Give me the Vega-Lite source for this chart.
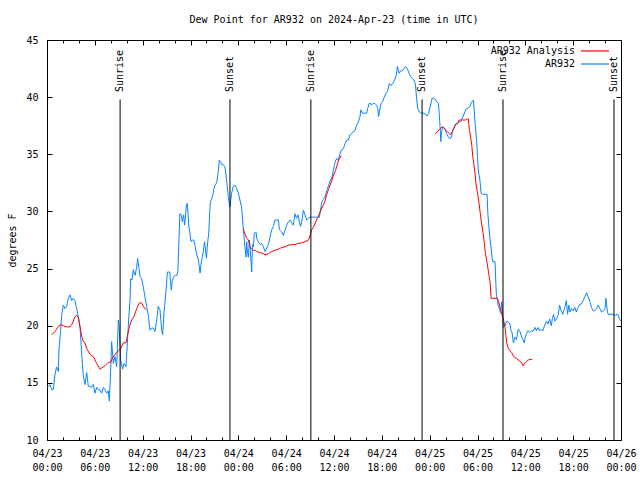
{
  "$schema": "https://vega.github.io/schema/vega-lite/v6.json",
  "autosize": "none",
  "width": 574,
  "height": 400,
  "padding": {"left": 47, "top": 40, "right": 19, "bottom": 40},
  "background": "white",
  "title": {"text": "Dew Point for AR932 on 2024-Apr-23 (time in UTC)", "font": "DejaVu Sans Mono", "fontSize": 10, "fontWeight": "normal", "color": "black", "offset": 10, "anchor": "middle"},
  "config": {
    "view": {"stroke": "black", "strokeWidth": 1},
    "axis": {"grid": false, "domain": false, "labelFont": "DejaVu Sans Mono", "labelFontSize": 10, "labelColor": "black", "titleFont": "DejaVu Sans Mono", "titleFontSize": 10, "titleFontWeight": "normal", "titleColor": "black", "tickColor": "black"},
    "legend": {"labelFont": "DejaVu Sans Mono", "labelFontSize": 10, "labelColor": "black"}
  },
  "datasets": {
    "obs": [
      {"h":0,"v":14.6},{"h":0.38,"v":14.85},{"h":0.59,"v":14.4},{"h":0.79,"v":14.4},{"h":1.0,"v":15.7},{"h":1.2,"v":16.4},{"h":1.42,"v":16.0},{"h":1.5,"v":17.9},{"h":1.71,"v":19.6},{"h":1.84,"v":20.9},{"h":2.05,"v":21.8},{"h":2.26,"v":21.5},{"h":2.47,"v":21.7},{"h":2.68,"v":22.4},{"h":2.89,"v":22.7},{"h":3.1,"v":22.2},{"h":3.3,"v":22.4},{"h":3.5,"v":22.2},{"h":3.72,"v":21.5},{"h":3.93,"v":20.8},{"h":4.14,"v":19.9},{"h":4.35,"v":17.5},{"h":4.56,"v":15.6},{"h":4.77,"v":14.85},{"h":4.98,"v":15.9},{"h":5.18,"v":14.7},{"h":5.39,"v":14.7},{"h":5.6,"v":14.6},{"h":5.81,"v":14.85},{"h":6.02,"v":14.1},{"h":6.23,"v":14.6},{"h":6.44,"v":14.4},{"h":6.65,"v":14.4},{"h":6.86,"v":14.1},{"h":7.06,"v":14.6},{"h":7.28,"v":14.4},{"h":7.49,"v":14.1},{"h":7.69,"v":14.3},{"h":7.82,"v":13.4},{"h":7.99,"v":16.2},{"h":8.11,"v":18.6},{"h":8.32,"v":16.7},{"h":8.53,"v":17.3},{"h":8.74,"v":16.4},{"h":8.95,"v":20.5},{"h":9.07,"v":19.6},{"h":9.24,"v":17.0},{"h":9.49,"v":16.2},{"h":9.66,"v":16.7},{"h":9.91,"v":16.4},{"h":10.08,"v":18.5},{"h":10.24,"v":20.5},{"h":10.41,"v":22.2},{"h":10.49,"v":24.1},{"h":10.66,"v":24.0},{"h":10.83,"v":24.9},{"h":11.04,"v":24.4},{"h":11.25,"v":25.1},{"h":11.37,"v":25.9},{"h":11.54,"v":25.0},{"h":11.67,"v":24.3},{"h":11.87,"v":24.1},{"h":12.08,"v":23.4},{"h":12.29,"v":22.5},{"h":12.5,"v":21.7},{"h":12.71,"v":20.9},{"h":12.92,"v":19.6},{"h":13.13,"v":19.8},{"h":13.33,"v":19.8},{"h":13.55,"v":19.5},{"h":13.76,"v":20.5},{"h":13.96,"v":21.7},{"h":14.17,"v":21.4},{"h":14.39,"v":19.6},{"h":14.51,"v":19.2},{"h":14.68,"v":21.2},{"h":14.8,"v":22.1},{"h":14.93,"v":23.1},{"h":15.1,"v":24.7},{"h":15.4,"v":24.7},{"h":15.5,"v":23.7},{"h":15.6,"v":23.1},{"h":15.7,"v":23.9},{"h":15.9,"v":24.3},{"h":16.1,"v":24.4},{"h":16.3,"v":24.4},{"h":16.42,"v":24.8},{"h":16.55,"v":27.5},{"h":16.67,"v":29.8},{"h":16.85,"v":29.7},{"h":16.97,"v":29.1},{"h":17.14,"v":29.7},{"h":17.27,"v":28.8},{"h":17.4,"v":29.8},{"h":17.5,"v":30.6},{"h":17.6,"v":30.7},{"h":17.8,"v":28.7},{"h":17.9,"v":28.25},{"h":18.06,"v":27.35},{"h":18.23,"v":27.5},{"h":18.4,"v":27.5},{"h":18.55,"v":27.06},{"h":18.7,"v":26.5},{"h":18.8,"v":26.2},{"h":18.98,"v":25.75},{"h":19.1,"v":25.2},{"h":19.2,"v":24.6},{"h":19.3,"v":25.3},{"h":19.45,"v":25.9},{"h":19.6,"v":26.5},{"h":19.76,"v":27.35},{"h":19.9,"v":26.5},{"h":20.0,"v":25.9},{"h":20.1,"v":26.9},{"h":20.3,"v":28.2},{"h":20.4,"v":29.8},{"h":20.5,"v":30.85},{"h":20.65,"v":31.1},{"h":20.8,"v":31.4},{"h":20.9,"v":31.9},{"h":21.07,"v":32.3},{"h":21.28,"v":32.5},{"h":21.49,"v":33.5},{"h":21.61,"v":34.5},{"h":21.78,"v":34.35},{"h":21.9,"v":34.1},{"h":22.1,"v":34.1},{"h":22.32,"v":33.9},{"h":22.53,"v":32.7},{"h":22.74,"v":31.3},{"h":22.86,"v":30.7},{"h":22.95,"v":30.4},{"h":23.16,"v":31.6},{"h":23.37,"v":32.2},{"h":23.58,"v":32.3},{"h":23.79,"v":32.0},{"h":24.0,"v":31.6},{"h":24.2,"v":31.0},{"h":24.4,"v":30.4},{"h":24.6,"v":28.7},{"h":24.75,"v":27.5},{"h":24.84,"v":26.8},{"h":24.97,"v":26.0},{"h":25.05,"v":27.35},{"h":25.13,"v":26.6},{"h":25.26,"v":26.0},{"h":25.39,"v":27.5},{"h":25.47,"v":26.9},{"h":25.55,"v":26.0},{"h":25.68,"v":24.7},{"h":25.77,"v":27.1},{"h":25.89,"v":26.9},{"h":26.01,"v":28.1},{"h":26.22,"v":28.2},{"h":26.3,"v":27.65},{"h":26.5,"v":27.35},{"h":26.72,"v":27.1},{"h":26.93,"v":27.2},{"h":27.14,"v":26.9},{"h":27.35,"v":26.5},{"h":27.56,"v":26.8},{"h":27.77,"v":27.1},{"h":27.98,"v":27.8},{"h":28.19,"v":28.4},{"h":28.4,"v":28.7},{"h":28.6,"v":29.25},{"h":28.82,"v":29.25},{"h":29.03,"v":29.25},{"h":29.15,"v":28.4},{"h":29.45,"v":28.2},{"h":29.65,"v":27.9},{"h":29.86,"v":28.4},{"h":30.07,"v":28.8},{"h":30.28,"v":29.1},{"h":30.49,"v":29.25},{"h":30.7,"v":29.0},{"h":30.9,"v":28.8},{"h":31.1,"v":29.8},{"h":31.3,"v":29.4},{"h":31.5,"v":29.7},{"h":31.65,"v":29.1},{"h":31.8,"v":28.7},{"h":31.95,"v":29.1},{"h":32.16,"v":30.1},{"h":32.37,"v":29.7},{"h":32.58,"v":29.25},{"h":32.8,"v":29.4},{"h":33.0,"v":29.5},{"h":34.17,"v":29.5},{"h":34.35,"v":30.3},{"h":34.47,"v":30.85},{"h":34.66,"v":31.06},{"h":34.87,"v":31.3},{"h":35.08,"v":31.8},{"h":35.29,"v":32.2},{"h":35.5,"v":32.65},{"h":35.7,"v":32.9},{"h":35.9,"v":33.5},{"h":36.1,"v":34.2},{"h":36.34,"v":34.65},{"h":36.55,"v":34.5},{"h":36.76,"v":35.1},{"h":36.97,"v":35.4},{"h":37.18,"v":35.5},{"h":37.39,"v":35.95},{"h":37.6,"v":36.25},{"h":37.8,"v":36.25},{"h":38.0,"v":36.7},{"h":38.2,"v":36.8},{"h":38.43,"v":37.0},{"h":38.64,"v":37.1},{"h":38.76,"v":37.4},{"h":38.97,"v":37.7},{"h":39.13,"v":38.0},{"h":39.26,"v":38.3},{"h":39.38,"v":38.9},{"h":39.55,"v":38.6},{"h":39.68,"v":38.6},{"h":40.1,"v":38.6},{"h":40.23,"v":39.0},{"h":40.4,"v":39.45},{"h":40.6,"v":39.45},{"h":40.7,"v":39.3},{"h":40.9,"v":39.45},{"h":41.1,"v":39.45},{"h":41.35,"v":39.3},{"h":41.5,"v":39.0},{"h":41.6,"v":38.3},{"h":41.7,"v":38.75},{"h":41.9,"v":39.45},{"h":42.1,"v":39.6},{"h":42.3,"v":40.0},{"h":42.5,"v":40.3},{"h":42.7,"v":40.5},{"h":42.95,"v":41.2},{"h":43.15,"v":41.0},{"h":43.37,"v":41.2},{"h":43.6,"v":41.5},{"h":43.8,"v":41.9},{"h":43.95,"v":42.7},{"h":44.15,"v":42.1},{"h":44.36,"v":42.3},{"h":44.57,"v":42.3},{"h":44.78,"v":42.5},{"h":44.98,"v":42.7},{"h":45.2,"v":42.5},{"h":45.4,"v":42.1},{"h":45.6,"v":41.8},{"h":45.8,"v":41.65},{"h":46.0,"v":41.5},{"h":46.2,"v":41.2},{"h":46.35,"v":40.0},{"h":46.5,"v":39.0},{"h":46.7,"v":38.7},{"h":46.9,"v":38.6},{"h":47.25,"v":38.6},{"h":47.45,"v":38.55},{"h":47.66,"v":38.35},{"h":47.87,"v":38.55},{"h":48.1,"v":39.3},{"h":48.3,"v":39.9},{"h":48.5,"v":39.9},{"h":48.7,"v":39.8},{"h":48.9,"v":39.6},{"h":49.1,"v":39.45},{"h":49.2,"v":38.6},{"h":49.3,"v":37.5},{"h":49.4,"v":36.1},{"h":49.5,"v":37.0},{"h":49.6,"v":37.3},{"h":49.7,"v":37.4},{"h":49.9,"v":37.2},{"h":50.1,"v":36.85},{"h":50.3,"v":36.55},{"h":50.45,"v":36.4},{"h":50.65,"v":36.4},{"h":50.8,"v":36.7},{"h":50.9,"v":37.1},{"h":51.1,"v":37.4},{"h":51.3,"v":37.7},{"h":51.5,"v":37.7},{"h":51.7,"v":37.85},{"h":51.9,"v":37.85},{"h":52.2,"v":38.3},{"h":52.4,"v":38.7},{"h":52.6,"v":39.0},{"h":52.8,"v":39.0},{"h":53.0,"v":39.15},{"h":53.2,"v":39.45},{"h":53.4,"v":39.7},{"h":53.5,"v":39.7},{"h":53.6,"v":38.7},{"h":53.7,"v":37.7},{"h":53.9,"v":36.1},{"h":54.0,"v":34.8},{"h":54.1,"v":33.6},{"h":54.3,"v":32.75},{"h":54.45,"v":31.6},{"h":54.6,"v":31.5},{"h":55.2,"v":31.5},{"h":55.3,"v":29.8},{"h":55.5,"v":28.1},{"h":55.7,"v":26.8},{"h":55.9,"v":25.6},{"h":56.2,"v":25.6},{"h":56.3,"v":23.7},{"h":56.37,"v":22.7},{"h":56.5,"v":22.2},{"h":56.6,"v":21.8},{"h":56.8,"v":21.4},{"h":56.9,"v":21.1},{"h":57.05,"v":22.1},{"h":57.1,"v":21.7},{"h":57.24,"v":19.85},{"h":57.45,"v":20.0},{"h":57.66,"v":20.4},{"h":57.87,"v":20.3},{"h":58.08,"v":20.15},{"h":58.2,"v":19.55},{"h":58.33,"v":19.4},{"h":58.5,"v":18.5},{"h":58.7,"v":19.0},{"h":58.9,"v":18.8},{"h":59.1,"v":19.7},{"h":59.3,"v":19.55},{"h":59.5,"v":19.1},{"h":59.7,"v":18.8},{"h":59.85,"v":18.5},{"h":60.0,"v":19.0},{"h":60.15,"v":19.3},{"h":60.35,"v":19.55},{"h":60.55,"v":19.4},{"h":60.76,"v":19.55},{"h":60.97,"v":19.5},{"h":61.2,"v":19.85},{"h":61.4,"v":19.55},{"h":61.6,"v":19.85},{"h":61.8,"v":19.55},{"h":62.0,"v":19.7},{"h":62.2,"v":19.55},{"h":62.4,"v":20.0},{"h":62.65,"v":20.4},{"h":62.85,"v":20.15},{"h":63.05,"v":20.6},{"h":63.26,"v":20.0},{"h":63.4,"v":20.7},{"h":63.55,"v":21.0},{"h":63.7,"v":20.4},{"h":63.9,"v":20.6},{"h":64.1,"v":20.9},{"h":64.3,"v":21.8},{"h":64.5,"v":21.3},{"h":64.7,"v":21.0},{"h":64.95,"v":21.6},{"h":65.15,"v":22.2},{"h":65.3,"v":21.0},{"h":65.45,"v":21.8},{"h":65.6,"v":21.2},{"h":65.8,"v":21.5},{"h":66.0,"v":21.3},{"h":66.2,"v":21.6},{"h":66.4,"v":21.2},{"h":66.6,"v":21.6},{"h":66.85,"v":21.9},{"h":67.05,"v":21.9},{"h":67.25,"v":22.2},{"h":67.45,"v":22.5},{"h":67.7,"v":22.9},{"h":67.9,"v":22.5},{"h":68.1,"v":22.1},{"h":68.3,"v":21.6},{"h":68.5,"v":21.3},{"h":68.7,"v":21.3},{"h":68.95,"v":21.5},{"h":69.15,"v":21.8},{"h":69.35,"v":21.5},{"h":69.55,"v":21.2},{"h":69.8,"v":21.3},{"h":70.0,"v":21.5},{"h":70.1,"v":22.4},{"h":70.3,"v":21.2},{"h":70.4,"v":21.0},{"h":71.1,"v":21.0},{"h":71.3,"v":20.9},{"h":71.5,"v":21.0},{"h":71.6,"v":21.0},{"h":71.8,"v":20.6},{"h":72.0,"v":20.4}
    ],
    "ana": [
      {"s":1,"h":0.59,"v":19.2},{"s":1,"h":1.0,"v":19.5},{"s":1,"h":1.42,"v":19.9},{"s":1,"h":1.63,"v":20.1},{"s":1,"h":2.05,"v":20.0},{"s":1,"h":2.47,"v":19.9},{"s":1,"h":2.89,"v":19.9},{"s":1,"h":3.1,"v":20.1},{"s":1,"h":3.3,"v":20.4},{"s":1,"h":3.5,"v":20.8},{"s":1,"h":3.72,"v":20.9},{"s":1,"h":3.93,"v":20.7},{"s":1,"h":4.14,"v":19.9},{"s":1,"h":4.35,"v":19.1},{"s":1,"h":4.56,"v":18.6},{"s":1,"h":4.77,"v":18.5},{"s":1,"h":4.98,"v":18.0},{"s":1,"h":5.39,"v":17.5},{"s":1,"h":5.81,"v":17.3},{"s":1,"h":6.23,"v":16.7},{"s":1,"h":6.65,"v":16.2},{"s":1,"h":6.86,"v":16.3},{"s":1,"h":7.28,"v":16.5},{"s":1,"h":7.69,"v":16.8},{"s":1,"h":7.99,"v":16.8},{"s":1,"h":8.24,"v":17.2},{"s":1,"h":8.53,"v":17.5},{"s":1,"h":8.95,"v":17.8},{"s":1,"h":9.24,"v":18.0},{"s":1,"h":9.58,"v":18.5},{"s":1,"h":9.91,"v":18.5},{"s":1,"h":10.08,"v":19.1},{"s":1,"h":10.33,"v":19.9},{"s":1,"h":10.62,"v":20.5},{"s":1,"h":10.91,"v":20.8},{"s":1,"h":11.25,"v":21.5},{"s":1,"h":11.58,"v":22.0},{"s":1,"h":11.87,"v":22.0},{"s":1,"h":12.08,"v":21.7},{"s":1,"h":12.4,"v":21.4},
      {"s":2,"h":24.6,"v":28.5},{"s":2,"h":24.8,"v":28.1},{"s":2,"h":25.05,"v":27.65},{"s":2,"h":25.26,"v":27.5},{"s":2,"h":25.47,"v":26.9},{"s":2,"h":25.68,"v":26.7},{"s":2,"h":25.89,"v":26.6},{"s":2,"h":26.1,"v":26.6},{"s":2,"h":26.3,"v":26.5},{"s":2,"h":26.72,"v":26.4},{"s":2,"h":27.14,"v":26.3},{"s":2,"h":27.35,"v":26.2},{"s":2,"h":27.77,"v":26.3},{"s":2,"h":28.19,"v":26.5},{"s":2,"h":28.6,"v":26.6},{"s":2,"h":29.03,"v":26.7},{"s":2,"h":29.45,"v":26.85},{"s":2,"h":29.86,"v":26.9},{"s":2,"h":30.28,"v":27.06},{"s":2,"h":30.7,"v":27.1},{"s":2,"h":31.1,"v":27.1},{"s":2,"h":31.5,"v":27.2},{"s":2,"h":31.95,"v":27.25},{"s":2,"h":32.37,"v":27.35},{"s":2,"h":32.8,"v":27.5},{"s":2,"h":33.0,"v":27.9},{"s":2,"h":33.2,"v":28.4},{"s":2,"h":33.4,"v":28.6},{"s":2,"h":33.6,"v":28.9},{"s":2,"h":33.8,"v":29.25},{"s":2,"h":34.0,"v":29.5},{"s":2,"h":34.27,"v":30.0},{"s":2,"h":34.47,"v":30.3},{"s":2,"h":34.7,"v":30.6},{"s":2,"h":34.9,"v":31.0},{"s":2,"h":35.1,"v":31.5},{"s":2,"h":35.3,"v":31.9},{"s":2,"h":35.5,"v":32.3},{"s":2,"h":35.75,"v":32.75},{"s":2,"h":35.95,"v":33.2},{"s":2,"h":36.2,"v":33.6},{"s":2,"h":36.4,"v":34.1},{"s":2,"h":36.6,"v":34.5},{"s":2,"h":36.9,"v":34.9},
      {"s":3,"h":48.75,"v":36.8},{"s":3,"h":49.0,"v":37.0},{"s":3,"h":49.2,"v":37.15},{"s":3,"h":49.4,"v":37.3},{"s":3,"h":49.6,"v":37.4},{"s":3,"h":49.8,"v":37.3},{"s":3,"h":50.0,"v":37.15},{"s":3,"h":50.2,"v":37.0},{"s":3,"h":50.4,"v":36.85},{"s":3,"h":50.6,"v":36.7},{"s":3,"h":50.85,"v":37.0},{"s":3,"h":51.05,"v":37.3},{"s":3,"h":51.25,"v":37.6},{"s":3,"h":51.5,"v":37.7},{"s":3,"h":51.7,"v":38.0},{"s":3,"h":52.1,"v":38.0},{"s":3,"h":52.5,"v":38.0},{"s":3,"h":52.7,"v":38.1},{"s":3,"h":52.85,"v":38.1},{"s":3,"h":52.9,"v":37.7},{"s":3,"h":53.0,"v":37.1},{"s":3,"h":53.15,"v":36.4},{"s":3,"h":53.3,"v":35.7},{"s":3,"h":53.4,"v":34.8},{"s":3,"h":53.55,"v":34.1},{"s":3,"h":53.7,"v":33.3},{"s":3,"h":53.8,"v":32.5},{"s":3,"h":54.0,"v":31.6},{"s":3,"h":54.2,"v":30.7},{"s":3,"h":54.35,"v":29.8},{"s":3,"h":54.5,"v":29.0},{"s":3,"h":54.7,"v":28.1},{"s":3,"h":54.85,"v":27.3},{"s":3,"h":55.0,"v":26.3},{"s":3,"h":55.2,"v":25.5},{"s":3,"h":55.4,"v":24.6},{"s":3,"h":55.6,"v":23.7},{"s":3,"h":55.7,"v":22.4},{"s":3,"h":56.5,"v":22.4},{"s":3,"h":56.65,"v":22.1},{"s":3,"h":56.8,"v":21.7},{"s":3,"h":56.9,"v":21.4},{"s":3,"h":57.0,"v":21.1},{"s":3,"h":57.24,"v":20.6},{"s":3,"h":57.45,"v":19.85},{"s":3,"h":57.66,"v":18.5},{"s":3,"h":57.87,"v":18.0},{"s":3,"h":58.08,"v":17.8},{"s":3,"h":58.3,"v":17.65},{"s":3,"h":58.5,"v":17.35},{"s":3,"h":58.7,"v":17.2},{"s":3,"h":58.9,"v":17.15},{"s":3,"h":59.1,"v":17.0},{"s":3,"h":59.3,"v":16.9},{"s":3,"h":59.5,"v":16.8},{"s":3,"h":59.7,"v":16.5},{"s":3,"h":59.9,"v":16.7},{"s":3,"h":60.15,"v":16.85},{"s":3,"h":60.35,"v":17.0},{"s":3,"h":60.55,"v":17.05},{"s":3,"h":60.85,"v":17.05}
    ],
    "sun": [
      {"h":9.17,"label":"Sunrise","lo":10,"hi":39.8,"ty":40.45},
      {"h":22.95,"label":"Sunset","lo":10,"hi":39.8,"ty":40.45},
      {"h":33.1,"label":"Sunrise","lo":10,"hi":39.8,"ty":40.45},
      {"h":47.05,"label":"Sunset","lo":10,"hi":39.8,"ty":40.45},
      {"h":57.2,"label":"Sunrise","lo":10,"hi":39.8,"ty":40.45},
      {"h":71.12,"label":"Sunset","lo":10,"hi":39.8,"ty":40.45}
    ]
  },
  "resolve": {"scale": {"x": "shared", "y": "shared", "color": "shared"}, "axis": {"x": "independent", "y": "independent"}},
  "layer": [
    {
      "data": {"name": "obs"},
      "mark": {"type": "line", "strokeWidth": 1, "interpolate": "linear"},
      "encoding": {
        "x": {"field": "h", "type": "quantitative", "scale": {"domain": [0, 72], "nice": false, "zero": false},
              "axis": {"orient": "bottom", "title": null, "values": [0,2,4,6,8,10,12,14,16,18,20,22,24,26,28,30,32,34,36,38,40,42,44,46,48,50,52,54,56,58,60,62,64,66,68,70,72],
                       "tickSize": {"condition": {"test": "datum.value % 6 === 0", "value": -5}, "value": -3},
                       "labelExpr": "datum.value % 6 === 0 ? ['04/' + (23 + floor(datum.value / 24)), (datum.value % 24 < 10 ? '0' : '') + (datum.value % 24) + ':00'] : ''",
                       "labelPadding": 13, "labelLineHeight": 14, "labelBaseline": "top", "labelFlush": false, "labelOverlap": false}},
        "y": {"field": "v", "type": "quantitative", "scale": {"domain": [10, 45], "nice": false, "zero": false},
              "axis": {"orient": "left", "title": "degrees F", "values": [10,15,20,25,30,35,40,45], "tickSize": -5, "labelPadding": 14, "titlePadding": 8}},
        "color": {"datum": "AR932", "type": "nominal",
                  "scale": {"domain": ["AR932 Analysis", "AR932"], "range": ["#ff0000", "#0a84ff"]},
                  "legend": {"title": null, "orient": "none", "legendX": 540, "legendY": 3, "padding": 0, "symbolType": "M-2,0H2", "symbolSize": 196, "symbolStrokeWidth": 1.2, "labelAlign": "right", "labelOffset": -28, "rowPadding": -1}}
      }
    },
    {
      "data": {"name": "ana"},
      "mark": {"type": "line", "strokeWidth": 1},
      "encoding": {
        "x": {"field": "h", "type": "quantitative",
              "axis": {"orient": "top", "title": null, "labels": false, "values": [0,2,4,6,8,10,12,14,16,18,20,22,24,26,28,30,32,34,36,38,40,42,44,46,48,50,52,54,56,58,60,62,64,66,68,70,72],
                       "tickSize": {"condition": {"test": "datum.value % 6 === 0", "value": -5}, "value": -3}}},
        "y": {"field": "v", "type": "quantitative",
              "axis": {"orient": "right", "title": null, "labels": false, "values": [10,15,20,25,30,35,40,45], "tickSize": -5}},
        "detail": {"field": "s", "type": "nominal"},
        "color": {"datum": "AR932 Analysis", "type": "nominal"}
      }
    },
    {
      "data": {"name": "sun"},
      "mark": {"type": "rule", "color": "black", "strokeWidth": 1},
      "encoding": {
        "x": {"field": "h", "type": "quantitative", "axis": null},
        "y": {"field": "lo", "type": "quantitative", "axis": null},
        "y2": {"field": "hi"}
      }
    },
    {
      "data": {"name": "sun"},
      "mark": {"type": "text", "angle": 270, "align": "left", "baseline": "middle", "font": "DejaVu Sans Mono", "fontSize": 10, "color": "black"},
      "encoding": {
        "x": {"field": "h", "type": "quantitative", "axis": null},
        "y": {"field": "ty", "type": "quantitative", "axis": null},
        "text": {"field": "label"}
      }
    }
  ]
}
